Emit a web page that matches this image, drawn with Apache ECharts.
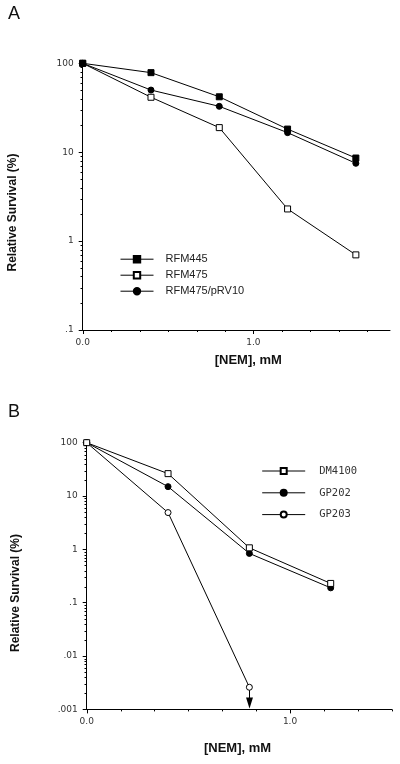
<!DOCTYPE html>
<html><head><meta charset="utf-8">
<script src="https://cdn.jsdelivr.net/npm/echarts@6/dist/echarts.min.js"></script>
<style>html,body{margin:0;padding:0;background:#fff}#c{width:400px;height:764px}</style>
</head><body><div id="c"></div>
<script>
// ---- data ----
const doseA = [0, 0.4, 0.8, 1.2, 1.6];
const rfm445 = [100, 78.5, 42, 18.2, 8.6];
const rfm475 = [100, 41.5, 18.9, 2.3, 0.7];
const rfm475pRV10 = [100, 50, 32.8, 16.6, 7.5];
const doseB = [0, 0.4, 0.8, 1.2];
const dm4100 = [100, 26.3, 1.07, 0.23];
const gp202 = [100, 15, 0.84, 0.19];
const gp203 = [100, 4.9, 0.0026];
const namesA = ['RFM445', 'RFM475', 'RFM475/pRV10'];
const namesB = ['DM4100', 'GP202', 'GP203'];
const xTickLabels = {0: '0.0', 1: '1.0'};
const yRangeA = [0.1, 100];
const yRangeB = [0.001, 100];
const xMaxA = 1.8, xMaxB = 1.5;
const xMinorStep = 1 / 6;
const arrowFloor = 0.001;

const chart = echarts.init(document.getElementById('c'), null, {renderer: 'canvas'});

function yFmt(v) {
  const s = String(+(+v).toPrecision(6));
  return s.replace(/^0\./, '.');
}
function xFmt(v) {
  const r = Math.round(v * 1000) / 1000;
  return xTickLabels[r] !== undefined ? xTickLabels[r] : '';
}
function pairs(xs, ys) { return ys.map((y, i) => [xs[i], y]); }
function mk(name, xs, ys, symbol, filled, idx, size, z) {
  return {
    name, type: 'line', xAxisIndex: idx, yAxisIndex: idx,
    data: pairs(xs, ys), symbol, symbolSize: size, z: z,
    lineStyle: {color: '#000', width: 1},
    itemStyle: {color: filled ? '#000' : '#fff', borderColor: '#000', borderWidth: 1},
    emphasis: {disabled: true}, animation: false
  };
}
const axisLine = {show: true, lineStyle: {color: '#000', width: 1}};
const tickFont = {fontFamily: 'DejaVu Sans', fontSize: 9, color: '#333'};

function xAx(gi, max) {
  return {gridIndex: gi, type: 'value', min: 0, max: max, interval: 1,
    axisLine: axisLine, axisTick: {show: false}, splitLine: {show: false},
    axisLabel: Object.assign({formatter: xFmt, margin: 8, showMaxLabel: false}, tickFont)};
}
function yAx(gi, rng) {
  return {gridIndex: gi, type: 'log', logBase: 10, min: rng[0], max: rng[1],
    axisLine: axisLine, axisTick: {show: true, length: 4, lineStyle: {color: '#000'}},
    splitLine: {show: false},
    axisLabel: Object.assign({formatter: yFmt, margin: 9}, tickFont)};
}

const option = {
  animation: false,
  backgroundColor: '#fff',
  grid: [
    {left: 82.7, top: 63.3, width: 307.3, height: 266.7},
    {left: 86.7, top: 442.7, width: 305, height: 266.7}
  ],
  xAxis: [xAx(0, xMaxA), xAx(1, xMaxB)],
  yAxis: [yAx(0, yRangeA), yAx(1, yRangeB)],
  legend: [
    {data: namesA, orient: 'vertical', left: 120, top: 253.7, padding: 0,
     itemWidth: 33, itemHeight: 8, itemGap: 5, selectedMode: false,
     lineStyle: {width: 1, color: '#000'},
     textStyle: {fontFamily: 'Liberation Sans', fontSize: 11, color: '#222', lineHeight: 8, padding: [0, 0, 0, 7]}},
    {data: namesB, orient: 'vertical', left: 261.7, top: 465.5, padding: 0,
     itemWidth: 43, itemHeight: 7.5, itemGap: 10.8, selectedMode: false,
     lineStyle: {width: 1, color: '#000'},
     textStyle: {fontFamily: 'DejaVu Sans Mono', fontSize: 10.5, color: '#333', lineHeight: 7.5, padding: [0, 0, 0, 9]}}
  ],
  series: [
    mk(namesA[1], doseA, rfm475, 'rect', false, 0, 6, 2),
    mk(namesA[2], doseA, rfm475pRV10, 'circle', true, 0, 6, 3),
    mk(namesA[0], doseA, rfm445, 'rect', true, 0, 6, 4),
    mk(namesB[2], doseB, gp203, 'circle', false, 1, 6, 2),
    mk(namesB[1], doseB, gp202, 'circle', true, 1, 6, 3),
    mk(namesB[0], doseB, dm4100, 'rect', false, 1, 6, 4)
  ]
};
chart.setOption(option);

// ---- ticks, arrow and text drawn through the axes' own scales ----
function px(gi, x, y) { return chart.convertToPixel({xAxisIndex: gi, yAxisIndex: gi}, [x, y]); }
const els = [];
const lineSt = {stroke: '#000', lineWidth: 1};
function seg(x1, y1, x2, y2) {
  els.push({type: 'line', silent: true, shape: {x1, y1, x2, y2}, style: lineSt, z: 5});
}
function minorY(gi, rng) {
  const lo = Math.round(Math.log10(rng[0])), hi = Math.round(Math.log10(rng[1]));
  for (let d = lo; d < hi; d++) {
    for (let m = 2; m <= 9; m++) {
      const p = px(gi, 0, m * Math.pow(10, d));
      seg(Math.round(p[0]) - 2.5, Math.round(p[1]) + 0.5, Math.round(p[0]), Math.round(p[1]) + 0.5);
    }
  }
}
function ticksX(gi, max, ymin) {
  const n = Math.floor(max / xMinorStep + 1e-6);
  for (let k = 0; k <= n; k++) {
    const p = px(gi, k * xMinorStep, ymin);
    const len = (k % 6 === 0) ? 4 : 2;
    const x = Math.round(p[0]) + 0.5;
    seg(x, p[1], x, p[1] + len);
  }
}
minorY(0, yRangeA); minorY(1, yRangeB);
ticksX(0, xMaxA, yRangeA[0]); ticksX(1, xMaxB, yRangeB[0]);

// arrow under last GP203 point
const pTop = px(1, doseB[2], gp203[2]);
const pBot = px(1, doseB[2], arrowFloor);
const ax = Math.round(pTop[0]) + 0.5;
seg(ax, pTop[1] + 3, ax, pBot[1] - 10);
els.push({type: 'polygon', silent: true, z: 5,
  shape: {points: [[ax - 3.5, pBot[1] - 12], [ax + 3.5, pBot[1] - 12], [ax, pBot[1] - 1]]},
  style: {fill: '#000'}});

const bold = 'bold 12px "Liberation Sans", Arial, sans-serif';
const boldX = 'bold 13px "Liberation Sans", Arial, sans-serif';
function txt(text, x, y, font, rot) {
  els.push({type: 'text', silent: true, x, y, rotation: rot || 0,
    style: {text, font, fill: '#111', align: 'center', verticalAlign: 'middle'}});
}
txt('A', 14, 14, '18px "Liberation Sans", Arial, sans-serif');
txt('B', 14, 412, '18px "Liberation Sans", Arial, sans-serif');
txt('Relative Survival (%)', 12.5, 212.5, bold, Math.PI / 2);
txt('Relative Survival (%)', 15.3, 593, bold, Math.PI / 2);
txt('[NEM], mM', 248.3, 360, boldX);
txt('[NEM], mM', 237.5, 748, boldX);

chart.setOption({graphic: {elements: els}});
</script>
</body></html>
